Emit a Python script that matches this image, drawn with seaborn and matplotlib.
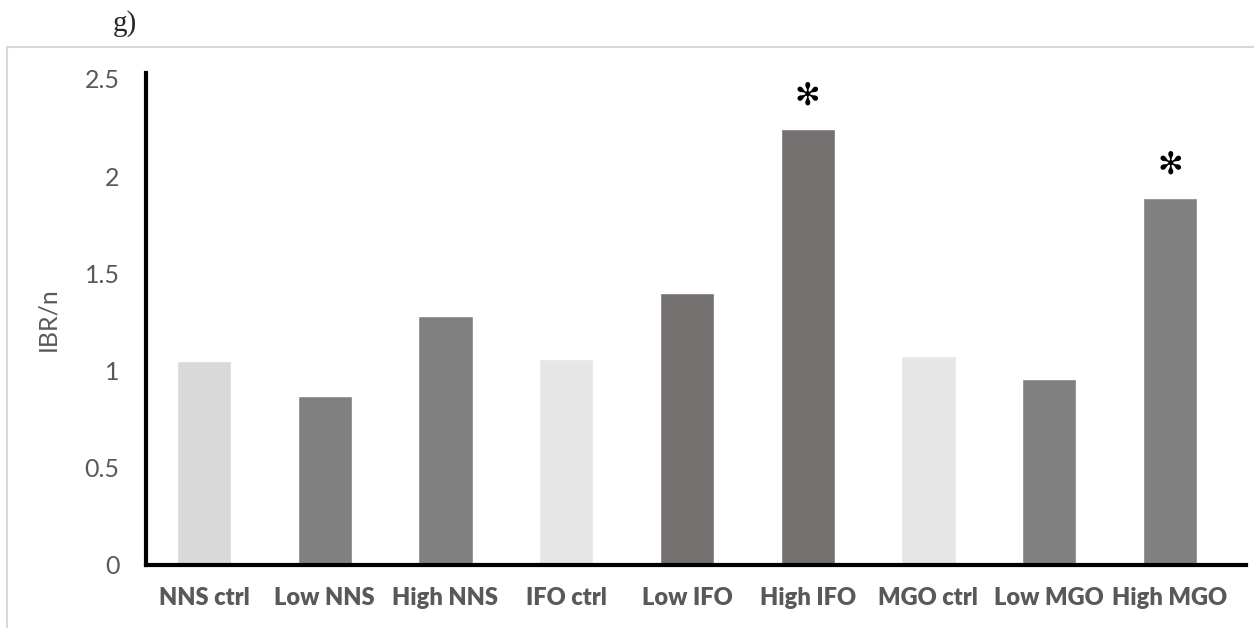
import matplotlib
matplotlib.use("Agg")
import matplotlib.pyplot as plt
import matplotlib.patches as mpatches
import seaborn as sns
import pandas as pd

groups = ["NNS ctrl", "Low NNS", "High NNS", "IFO ctrl", "Low IFO",
          "High IFO", "MGO ctrl", "Low MGO", "High MGO"]
ibr = [1.05, 0.87, 1.28, 1.06, 1.40, 2.24, 1.075, 0.955, 1.885]
significant = [False, False, False, False, False, True, False, False, True]
bar_colors = ["#d9d9d9", "#808080", "#808080", "#e7e6e6", "#767171",
              "#767171", "#e7e6e6", "#808080", "#808080"]
yticks = [0, 0.5, 1, 1.5, 2, 2.5]
ytick_labels = ["0", "0.5", "1", "1.5", "2", "2.5"]

df = pd.DataFrame({"group": groups, "ibr": ibr})

sns.set_style("white")
plt.rcParams["font.family"] = ["Lato", "DejaVu Sans"]

W, H = 1254, 628
fig = plt.figure(figsize=(W / 100, H / 100), dpi=100)
ax = fig.add_axes([146 / W, (H - 565) / H, (1246 - 146) / W, (565 - 73) / H])

sns.barplot(data=df, x="group", y="ibr", hue="group", palette=bar_colors,
            width=0.45, legend=False, ax=ax, saturation=1)

ax.set_xlim(-0.48, 8.63)
ax.set_ylim(0, 2.53)
ax.set_yticks(yticks)
ax.set_yticklabels(ytick_labels)
ax.tick_params(axis="y", length=0, pad=19, labelsize=18, labelcolor="#595959")
ax.tick_params(axis="x", length=0, pad=16, labelsize=17, labelcolor="#595959")
for lbl in ax.get_xticklabels():
    lbl.set_fontweight("heavy")

ax.set_xlabel("")
ax.set_ylabel("IBR/n", fontsize=18, color="#595959")
ax.yaxis.set_label_coords(-0.079, 0.5)

for side in ["top", "right"]:
    ax.spines[side].set_visible(False)
for side in ["left", "bottom"]:
    ax.spines[side].set_color("black")
    ax.spines[side].set_linewidth(3)

# significance stars
for i, (v, s) in enumerate(zip(ibr, significant)):
    if s:
        ax.annotate("\u273b", xy=(i, v), xytext=(0, 24), textcoords="offset points",
                    ha="center", va="center", fontsize=22, color="black",
                    family=["DejaVu Sans"])

# panel letter and outer frame
fig.text(113 / W, 1 - 24 / H, "g)", family="Liberation Serif", fontsize=21,
         va="center", ha="left")
frame = mpatches.Rectangle((7 / W, -0.05), 1.1, (H - 47) / H + 0.05,
                           transform=fig.transFigure, fill=False,
                           edgecolor="#d9d9d9", linewidth=1.5)
fig.patches.append(frame)

fig.savefig("out.png", dpi=100)
